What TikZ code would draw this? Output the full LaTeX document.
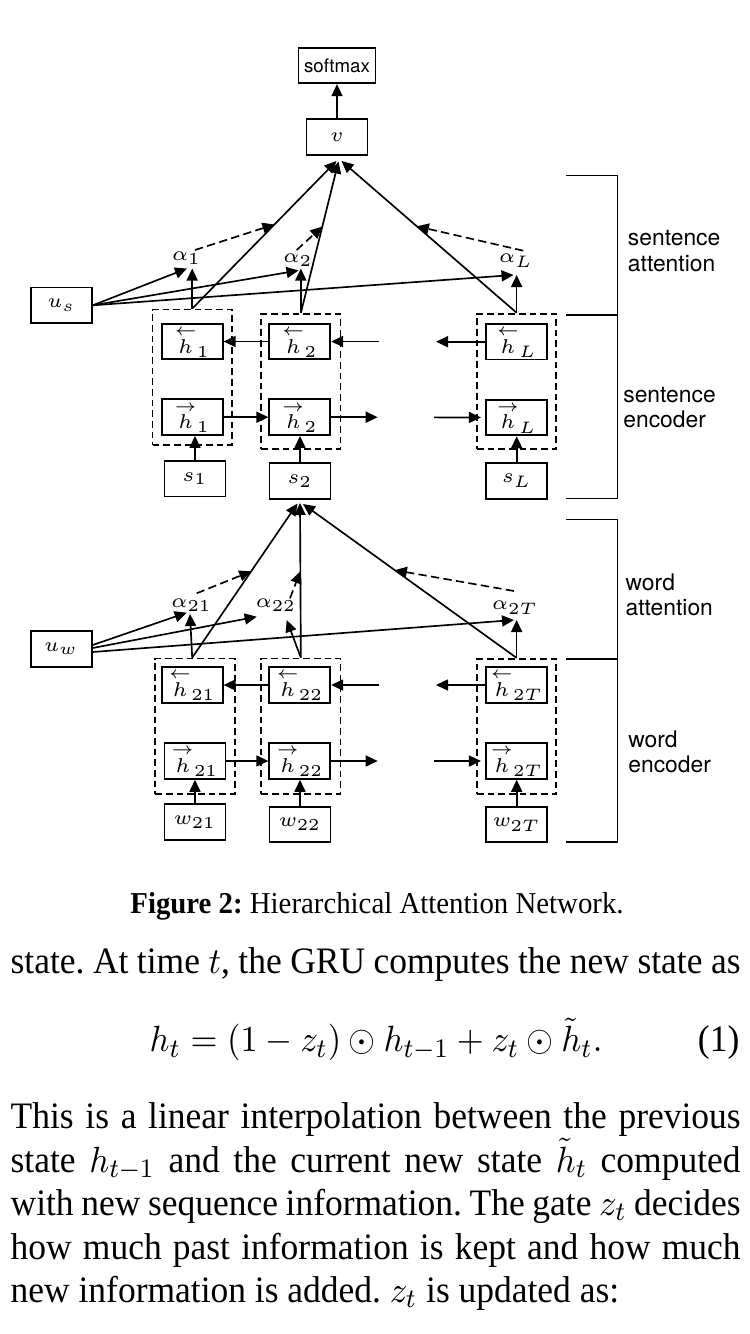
\documentclass[tikz,border=0pt]{standalone}
\usepackage{amsmath}
\usepackage[no-math]{fontspec}
\setmainfont{Liberation Serif}
\newfontfamily\hv{TeX Gyre Heros}
\usetikzlibrary{arrows.meta,calc}
\newcommand{\hbk}[1]{{\overset{\leftarrow}{h}}_{#1}}
\newcommand{\hfw}[1]{{\overset{\rightarrow}{h}}_{#1}}
\newcommand{\sqz}[1]{\scalebox{0.95}[1]{#1}}
\frenchspacing
\tikzset{
 bx/.style={draw, line width=0.55pt, inner sep=0pt, minimum width=18.3pt, minimum height=10.7pt, font=\fontsize{6}{7}\selectfont},
 dbx/.style={draw, line width=0.55pt, dash pattern=on 2pt off 1.2pt, inner sep=0pt, minimum width=23.8pt, minimum height=40.6pt},
 arr/.style={line width=0.5pt, -{Triangle[length=3.6pt,width=3.3pt]}},
 darr/.style={arr, dash pattern=on 2.5pt off 1.3pt},
 lbl/.style={inner sep=0.5pt, font=\fontsize{6}{7}\selectfont},
 brk/.style={line width=0.4pt},
 side/.style={anchor=west, align=left, inner sep=0pt, font=\hv\fontsize{6.85}{7.7}\selectfont},
 body/.style={anchor=base west, inner sep=0pt, font=\fontsize{11.2}{13}\selectfont},
}
\begin{document}
\begin{tikzpicture}[x=0.3pt,y=-0.3pt]
\fill[white] (0,0) rectangle (750,1334);
\useasboundingbox (0,0) rectangle (750,1334);

% ---------- top ----------
\node[bx, minimum width=23.1pt, minimum height=10.5pt, font=\hv\fontsize{5.6}{6}\selectfont] (sm) at (337,65.7) {softmax};
\node[bx] (v) at (337,137) {$v$};
\node[bx] (us) at (61.3,305.3) {$u_s$};
\node[bx] (uw) at (61.3,649) {$u_w$};

% ---------- sentence encoder ----------
\node[dbx] (D1) at (192.2,377.2) {};
\node[dbx] (D2) at (300.85,381.5) {};
\node[dbx] (DL) at (516.65,381.4) {};
\node[bx] (hb1) at (192.2,341.5) {$\hbk{1}$};
\node[bx] (hf1) at (192.2,417.2) {$\hfw{1}$};
\node[bx] (hb2) at (299.8,341.5) {$\hbk{2}$};
\node[bx] (hf2) at (299.8,417.2) {$\hfw{2}$};
\node[bx] (hbL) at (516.7,341.7) {$\hbk{L}$};
\node[bx] (hfL) at (516.7,417.5) {$\hfw{L}$};
\node[bx] (s1) at (195,478.7) {$s_1$};
\node[bx] (s2) at (300,481) {$s_2$};
\node[bx] (sL) at (516.7,480.8) {$s_L$};

\node[lbl] (a1) at (186.7,258.3) {$\alpha_1$};
\node[lbl] (a2) at (298,260) {$\alpha_2$};
\node[lbl] (aL) at (516,260.7) {$\alpha_L$};

% ---------- word encoder ----------
\node[dbx] (E1) at (195,726.2) {};
\node[dbx] (E2) at (300.85,726.2) {};
\node[dbx] (ET) at (516.65,726.5) {};
\node[bx] (hb21) at (192.2,685) {$\hbk{21}$};
\node[bx] (hf21) at (195,761) {$\hfw{21}$};
\node[bx] (hb22) at (299.8,685) {$\hbk{22}$};
\node[bx] (hf22) at (299.8,761) {$\hfw{22}$};
\node[bx] (hb2T) at (516.7,685) {$\hbk{2T}$};
\node[bx] (hf2T) at (516.7,761) {$\hfw{2T}$};
\node[bx] (w21) at (195,822) {$w_{21}$};
\node[bx] (w22) at (300,824.5) {$w_{22}$};
\node[bx] (w2T) at (516.7,824.5) {$w_{2T}$};

\node[lbl] (a21) at (191.7,605) {$\alpha_{21}$};
\node[lbl] (a22) at (276,605) {$\alpha_{22}$};
\node[lbl] (a2T) at (515,607.7) {$\alpha_{2T}$};

% ---------- sentence attention connectors ----------
\draw[arr] (v) -- (sm);
\coordinate (vin1) at (336.5,161);
\coordinate (vin2) at (338.5,161.5);
\coordinate (vin3) at (341.5,161);
\draw[arr] (D1.north) -- (vin1);
\draw[arr] (D2.north) -- (vin2);
\draw[arr] (DL.north) -- (vin3);
\coordinate (a1in) at (187,268.5);
\coordinate (a2in) at (298.5,270.5);
\coordinate (aLin) at (513.5,275);
\draw[arr] (us.east) -- (a1in);
\draw[arr] (us.east) -- (a2in);
\draw[arr] (us.east) -- (aLin);
\draw[arr] (D1.north) -- (D1.north |- a1in);
\draw[arr] (D2.north) -- (D2.north |- a1in);
\draw[arr] (DL.north) -- (DL.north |- aLin);
\coordinate (d1) at (195,250);
\coordinate (d2) at (296.7,250);
\coordinate (dL) at (523.3,250.7);
\draw[darr] (d1) -- ($(D1.north)!0.57!(vin1)$);
\draw[darr] (d2) -- ($(D2.north)!0.57!(vin2)$);
\draw[darr] (dL) -- ($(DL.north)!0.57!(vin3)$);

% sentence encoder connectors
\coordinate (sb0) at (379.3,341.5);
\coordinate (sb1) at (436,341.7);
\draw[arr] (hb2.west) -- (hb1.east);
\draw[arr] (sb0) -- (hb2.east);
\draw[arr] (hbL.west) -- (sb1);
\coordinate (sf0) at (377.7,417.2);
\coordinate (sf1) at (434,417.4);
\draw[arr] (hf1.east) -- (hf2.west);
\draw[arr] (hf2.east) -- (sf0);
\draw[arr, shorten >=1.3pt] (sf1) -- (hfL.west);
\draw[arr] (s1.north) -- (s1.north |- hf1.south);
\draw[arr] (s2.north) -- (s2.north |- hf2.south);
\draw[arr] (sL.north) -- (sL.north |- hfL.south);

% ---------- word attention connectors ----------
\coordinate (e1top) at (E1.north -| hb21);
\coordinate (s2in1) at (297.5,503.5);
\coordinate (s2in2) at (300,503);
\coordinate (s2in3) at (303,504);
\draw[arr] (e1top) -- (s2in1);
\draw[arr] (E2.north) -- (s2in2);
\draw[arr] (ET.north) -- (s2in3);
\coordinate (a21up) at (190,614);
\coordinate (a22up) at (286.7,620);
\coordinate (a21in) at (186.7,612.7);
\coordinate (uwfree) at (256.7,616.7);
\coordinate (a2Tin) at (514,620);
\draw[arr] (e1top) -- (a21up);
\draw[arr] (E2.north) -- (a22up);
\draw[arr] (ET.north) -- (ET.north |- a2Tin);
\draw[arr] ([yshift=1.2pt]uw.east) -- (a21in);
\draw[arr] ([yshift=0.3pt]uw.east) -- (uwfree);
\draw[arr] ([yshift=-0.9pt]uw.east) -- (a2Tin);
\coordinate (d21) at (196.7,593.3);
\coordinate (d22) at (290,598.3);
\coordinate (d2T) at (514,591);
\draw[darr] (d21) -- ($(e1top)!0.56!(s2in1)$);
\draw[darr] (d22) -- ($(E2.north)!0.558!(s2in2)$);
\draw[darr] (d2T) -- ($(ET.north)!0.57!(s2in3)$);

% word encoder connectors
\coordinate (wb0) at (379.3,685);
\coordinate (wb1) at (436,685);
\draw[arr] (hb22.west) -- (hb21.east);
\draw[arr] (wb0) -- (hb22.east);
\draw[arr] (hb2T.west) -- (wb1);
\coordinate (wf0) at (377.7,761);
\coordinate (wf1) at (434,761);
\draw[arr] (hf21.east) -- (hf22.west);
\draw[arr] (hf22.east) -- (wf0);
\draw[arr, shorten >=1.3pt] (wf1) -- (hf2T.west);
\draw[arr] (w21.north) -- (w21.north |- hf21.south);
\draw[arr] (w22.north) -- (w22.north |- hf22.south);
\draw[arr] (w2T.north) -- (w2T.north |- hf2T.south);

% ---------- brackets ----------
\draw[brk] (566,175.3) -- (617.3,175.3) -- (617.3,498.3) -- (566,498.3);
\draw[brk] (566,315) -- (617.3,315);
\draw[brk] (566,519.3) -- (617.7,519.3) -- (617.7,842) -- (566,842);
\draw[brk] (566,659) -- (617.7,659);
\node[side] (lsa) at (627.3,250.8) {sentence\\attention};
\node[side] (lse) at (622.7,407.5) {sentence\\encoder};
\node[side] (lwa) at (625,594.7) {word\\attention};
\node[side] (lwe) at (627.7,752) {word\\encoder};

% ---------- caption and body text ----------
\node[anchor=base, inner sep=0pt, font=\fontsize{9.1}{10}\selectfont] (cap) at (377,913.3) {\sqz{\textbf{Figure 2:} Hierarchical Attention Network.}};
\node[body] (p1) at (10,973.3) {\sqz{\makebox[230.5pt][s]{state. At time $t$, the GRU computes the new state as}}};
\node[anchor=base, inner sep=0pt, font=\fontsize{10.8}{13}\selectfont] (eq) at (376,1051.7) {\sqz{$\displaystyle h_t = (1 - z_t) \odot h_{t-1} + z_t \odot \tilde{h}_t.$}};
\node[anchor=base east, inner sep=0pt, font=\fontsize{11.2}{13}\selectfont] (eqn) at (740,1051.7) {\sqz{(1)}};
\node[body] (l1) at (10,1128) {\sqz{\makebox[230.5pt][s]{This is a linear interpolation between the previous}}};
\node[body] (l2) at (10,1172) {\sqz{\makebox[230.5pt][s]{state $h_{t-1}$ and the current new state $\tilde{h}_t$ computed}}};
\node[body] (l3) at (10,1215) {\sqz{\makebox[230.5pt][s]{with new sequence information. The gate $z_t$ decides}}};
\node[body] (l4) at (10,1259) {\sqz{\makebox[230.5pt][s]{how much past information is kept and how much}}};
\node[body] (l5) at (10,1302) {\sqz{new information is added. $z_t$ is updated as:}};
\end{tikzpicture}
\end{document}
